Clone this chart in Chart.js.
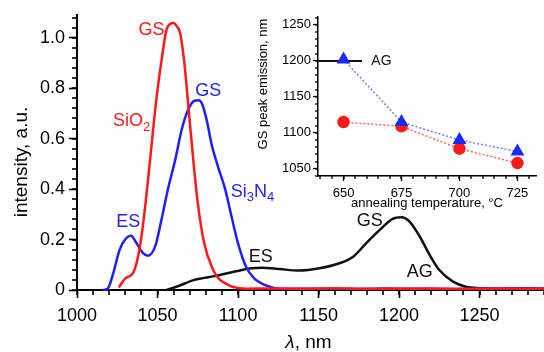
<!DOCTYPE html>
<html>
<head>
<meta charset="utf-8">
<script src="https://cdn.jsdelivr.net/npm/chart.js@4.4.1/dist/chart.umd.min.js"></script>
<style>
    body { margin: 0; background: #fff; }
    #wrap { position: relative; width: 544px; height: 352px; }
    #main { position: absolute; left: 0; top: 0; }
    #inset { position: absolute; left: 250px; top: 0; }
</style>
</head>
<body>
<div id="wrap">
    <canvas id="main" width="544" height="352"></canvas>
    <canvas id="inset" width="294" height="210"></canvas>
</div>
<script>
// Spectra (wavelength in nm, intensity in a.u.)
const sio2Wavelength = [1026, 1028, 1030, 1033, 1035, 1037, 1040, 1043, 1046, 1049, 1052.5, 1055.5, 1058, 1060, 1062, 1064, 1066.5, 1069, 1072, 1075, 1079, 1084.5, 1088, 1092, 1096, 1100, 1105, 1120, 1140, 1160, 1180, 1200, 1220, 1240, 1260, 1280, 1290];
const sio2Intensity  = [0.01, 0.03, 0.046, 0.056, 0.07, 0.107, 0.21, 0.37, 0.555, 0.74, 0.91, 1.03, 1.055, 1.058, 1.045, 1.02, 0.91, 0.74, 0.53, 0.345, 0.185, 0.08, 0.045, 0.027, 0.014, 0.008, 0.005, 0.006, 0.005, 0.007, 0.004, 0.005, 0.006, 0.004, 0.006, 0.005, 0.006];

const si3n4Wavelength = [1016, 1019, 1022.5, 1026.5, 1030.5, 1033.5, 1037, 1041, 1044, 1048.5, 1052.5, 1056.5, 1061, 1065, 1069, 1073, 1075.5, 1077.5, 1080.5, 1083.5, 1087.5, 1092, 1096, 1100, 1105, 1110, 1116.5, 1123, 1130, 1150, 1170, 1190, 1210, 1230, 1250, 1270, 1290];
const si3n4Intensity  = [0, 0.005, 0.066, 0.16, 0.205, 0.215, 0.185, 0.146, 0.136, 0.172, 0.28, 0.40, 0.516, 0.635, 0.714, 0.75, 0.752, 0.74, 0.675, 0.58, 0.49, 0.40, 0.29, 0.185, 0.092, 0.046, 0.02, 0.007, 0.004, 0.005, 0.004, 0.006, 0.005, 0.004, 0.006, 0.007, 0.006];

const agWavelength = [1055.5, 1063, 1073, 1085.5, 1098, 1108.5, 1115, 1121, 1126, 1138, 1150.5, 1163, 1171.5, 1179.5, 1188, 1196, 1201.5, 1206.5, 1213, 1219, 1225, 1233.5, 1241.5, 1250, 1265, 1280, 1290];
const agIntensity  = [0, 0.016, 0.04, 0.055, 0.073, 0.086, 0.088, 0.086, 0.083, 0.077, 0.086, 0.106, 0.132, 0.185, 0.238, 0.282, 0.288, 0.271, 0.21, 0.139, 0.079, 0.033, 0.013, 0.007, 0.005, 0.006, 0.005];

const xTicks = [1000, 1050, 1100, 1150, 1200, 1250];
const xTickLabels = ['1000', '1050', '1100', '1150', '1200', '1250'];
const yTicks = [0, 0.2, 0.4, 0.6, 0.8, 1.0];
const yTickLabels = ['0', '0.2', '0.4', '0.6', '0.8', '1.0'];

// Inset: GS peak emission vs annealing temperature
const annealTemp = [650, 675, 700, 725];
const si3n4Peak = [1202, 1115, 1090, 1074];
const sio2Peak = [1115, 1109, 1078, 1058];
const agPeak = 1200;
const insetXTicks = [650, 675, 700, 725];
const insetXTickLabels = ['650', '675', '700', '725'];
const insetYTicks = [1050, 1100, 1150, 1200, 1250];
const insetYTickLabels = ['1050', '1100', '1150', '1200', '1250'];

const FONT = '"Liberation Sans", Arial, Helvetica, sans-serif';
const RED = '#ff1a1a';
const BLUE = '#1f1fff';
const BLACK = '#111111';

// text annotations, anchored in data units
const mainLabels = [
    { parts: [{ t: 'GS' }], x: 1046.3, y: 1.03, color: RED, align: 'center' },
    { parts: [{ t: 'SiO' }, { t: '2', sub: true }], x: 1022.3, y: 0.668, color: RED, align: 'left' },
    { parts: [{ t: 'GS' }], x: 1081.5, y: 0.787, color: BLUE, align: 'center' },
    { parts: [{ t: 'Si' }, { t: '3', sub: true }, { t: 'N' }, { t: '4', sub: true }], x: 1095.5, y: 0.39, color: BLUE, align: 'left' },
    { parts: [{ t: 'ES' }], x: 1031.8, y: 0.271, color: BLUE, align: 'center' },
    { parts: [{ t: 'ES' }], x: 1114.1, y: 0.129, color: BLACK, align: 'center' },
    { parts: [{ t: 'GS' }], x: 1181.8, y: 0.275, color: BLACK, align: 'center' },
    { parts: [{ t: 'AG' }], x: 1212.8, y: 0.073, color: BLACK, align: 'center' }
];
const insetLabels = [
    { parts: [{ t: 'AG' }], x: 662, y: agPeak, color: BLACK, align: 'left' }
];

function drawParts(ctx, parts, x, y, size, color, align) {
    ctx.save();
    ctx.fillStyle = color;
    ctx.textBaseline = 'middle';
    ctx.textAlign = 'left';
    const fontFor = p => (p.italic ? 'italic ' : '') + (p.sub ? Math.round(size * 0.7) : size) + 'px ' + FONT;
    let total = 0;
    parts.forEach(p => { ctx.font = fontFor(p); total += ctx.measureText(p.t).width; });
    let cx = align === 'center' ? x - total / 2 : x;
    parts.forEach(p => {
        ctx.font = fontFor(p);
        ctx.fillText(p.t, cx, p.sub ? y + size * 0.32 : y);
        cx += ctx.measureText(p.t).width;
    });
    ctx.restore();
}

// minor ticks, text labels and the axis titles that need exact placement
function decorPlugin(cfg) {
    return {
        id: 'decor',
        afterDraw(chart) {
            const ctx = chart.ctx;
            const xs = chart.scales.x, ys = chart.scales.y;
            const area = chart.chartArea;

            ctx.save();
            ctx.fillStyle = '#000';
            const first = Math.ceil(xs.min / cfg.xStep);
            const last = Math.floor(xs.max / cfg.xStep);
            for (let i = first; i <= last; i++) {
                const px = Math.round(xs.getPixelForValue(i * cfg.xStep));
                ctx.fillRect(px - cfg.w / 2, area.bottom, cfg.w, cfg.len);
            }
            const firstY = Math.ceil(ys.min / cfg.yStep - 1e-6);
            const lastY = Math.floor(ys.max / cfg.yStep + 1e-6);
            for (let i = firstY; i <= lastY; i++) {
                const py = Math.round(ys.getPixelForValue(i * cfg.yStep));
                ctx.fillRect(area.left - cfg.len, py - cfg.w / 2, cfg.len, cfg.w);
            }
            ctx.restore();

            cfg.labels.forEach(item => {
                drawParts(ctx, item.parts, xs.getPixelForValue(item.x), ys.getPixelForValue(item.y), cfg.size, item.color, item.align);
            });

            if (cfg.xTitle) {
                drawParts(ctx, cfg.xTitle, (area.left + area.right) / 2 - 2, chart.height - 9, cfg.titleSize, '#000', 'center');
            }
            if (cfg.yTitle) {
                ctx.save();
                ctx.translate(cfg.yTitleX, cfg.yTitleY);
                ctx.rotate(-Math.PI / 2);
                drawParts(ctx, cfg.yTitle, 0, 0, cfg.titleSize, '#000', 'center');
                ctx.restore();
            }
        }
    };
}

function series(xs, ys, color) {
    return {
        data: xs.map((x, i) => ({ x: x, y: ys[i] })),
        borderColor: color,
        borderWidth: 2.5,
        pointRadius: 0,
        cubicInterpolationMode: 'monotone',
        clip: false
    };
}

new Chart(document.getElementById('main'), {
    type: 'line',
    data: {
        datasets: [
            series(sio2Wavelength, sio2Intensity, RED),
            series(si3n4Wavelength, si3n4Intensity, BLUE),
            series(agWavelength, agIntensity, BLACK)
        ]
    },
    options: {
        responsive: false,
        animation: false,
        layout: { padding: { top: 15, right: 0, left: 0, bottom: 0 } },
        plugins: { legend: { display: false }, tooltip: { enabled: false } },
        scales: {
            x: {
                type: 'linear',
                min: 1000,
                max: 1290,
                afterBuildTicks: scale => { scale.ticks = xTicks.map(v => ({ value: v })); },
                afterFit: scale => { scale.height = 62; },
                ticks: { color: '#000', font: { size: 18, family: FONT }, padding: 7, maxRotation: 0, callback: (v, i) => xTickLabels[i] },
                grid: { drawOnChartArea: false, tickLength: 8, tickColor: '#000', tickWidth: 1.6 },
                border: { color: '#000', width: 2 }
            },
            y: {
                type: 'linear',
                min: 0,
                max: 1.09,
                afterBuildTicks: scale => { scale.ticks = yTicks.map(v => ({ value: v })); },
                afterFit: scale => { scale.width = 77; },
                ticks: { color: '#000', font: { size: 18, family: FONT }, padding: 4, callback: (v, i) => yTickLabels[i] },
                grid: { drawOnChartArea: false, tickLength: 8, tickColor: '#000', tickWidth: 1.6 },
                border: { color: '#000', width: 2 }
            }
        }
    },
    plugins: [decorPlugin({
        xStep: 10, yStep: 0.04, len: 5, w: 1.6, size: 18, labels: mainLabels, titleSize: 19,
        xTitle: [{ t: 'λ', italic: true }, { t: ', nm' }],
        yTitle: [{ t: 'intensity, a.u.' }], yTitleX: 22, yTitleY: 162
    })]
});

new Chart(document.getElementById('inset'), {
    type: 'line',
    data: {
        datasets: [
            {
                data: annealTemp.map((t, i) => ({ x: t, y: si3n4Peak[i] })),
                borderColor: '#6f80ff',
                borderWidth: 1.5,
                borderDash: [2, 2],
                pointStyle: 'triangle',
                pointRadius: 6.5,
                pointBackgroundColor: '#1a2bff',
                pointBorderColor: '#1a2bff',
                order: 0
            },
            {
                data: annealTemp.map((t, i) => ({ x: t, y: sio2Peak[i] })),
                borderColor: '#ff6060',
                borderWidth: 1.5,
                borderDash: [2, 2],
                pointStyle: 'circle',
                pointRadius: 5.5,
                pointBackgroundColor: '#ff1a1a',
                pointBorderColor: '#ff1a1a',
                order: 1
            },
            {
                data: [{ x: 639, y: agPeak }, { x: 658, y: agPeak }],
                borderColor: BLACK,
                borderWidth: 2,
                pointRadius: 0,
                clip: false,
                order: 2
            }
        ]
    },
    options: {
        responsive: false,
        animation: false,
        layout: { padding: { top: 17, right: 4, left: 0, bottom: 0 } },
        plugins: { legend: { display: false }, tooltip: { enabled: false } },
        scales: {
            x: {
                type: 'linear',
                min: 639,
                max: 733,
                afterBuildTicks: scale => { scale.ticks = insetXTicks.map(v => ({ value: v })); },
                afterFit: scale => { scale.height = 34; },
                ticks: { color: '#000', font: { size: 13, family: FONT }, padding: 5, maxRotation: 0, callback: (v, i) => insetXTickLabels[i] },
                grid: { drawOnChartArea: false, tickLength: 5, tickColor: '#000', tickWidth: 1.3 },
                border: { color: '#000', width: 1.5 },
                title: { display: true, text: 'annealing temperature, °C', color: '#000', font: { size: 13, family: FONT, lineHeight: 1 }, padding: { top: 0, bottom: 0 } }
            },
            y: {
                type: 'linear',
                min: 1040,
                max: 1261,
                afterBuildTicks: scale => { scale.ticks = insetYTicks.map(v => ({ value: v })); },
                afterFit: scale => { scale.width = 68; },
                ticks: { color: '#000', font: { size: 13, family: FONT }, padding: 2, callback: (v, i) => insetYTickLabels[i] },
                grid: { drawOnChartArea: false, tickLength: 5, tickColor: '#000', tickWidth: 1.3 },
                border: { color: '#000', width: 1.5 }
            }
        }
    },
    plugins: [decorPlugin({
        xStep: 5, yStep: 10, len: 3, w: 1.3, size: 14, labels: insetLabels, titleSize: 13,
        yTitle: [{ t: 'GS peak emission, nm' }], yTitleX: 13, yTitleY: 84
    })]
});
</script>
</body>
</html>
